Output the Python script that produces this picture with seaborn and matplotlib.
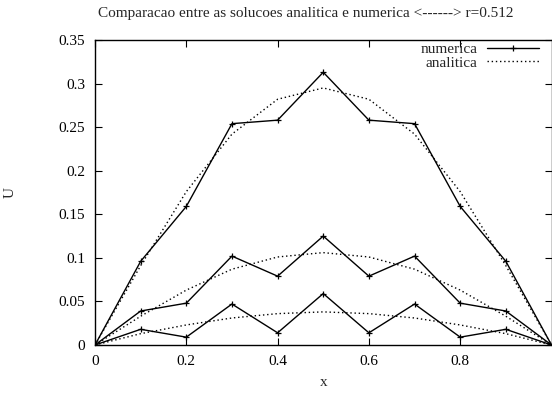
import matplotlib
matplotlib.use("Agg")
import matplotlib.pyplot as plt
import seaborn as sns
import pandas as pd

x = [0.0, 0.1, 0.2, 0.3, 0.4, 0.5, 0.6, 0.7, 0.8, 0.9, 1.0]

num_1 = [0, 0.096, 0.159, 0.254, 0.258, 0.313, 0.258, 0.254, 0.159, 0.096, 0]
num_2 = [0, 0.039, 0.048, 0.102, 0.079, 0.125, 0.079, 0.102, 0.048, 0.039, 0]
num_3 = [0, 0.018, 0.009, 0.047, 0.014, 0.059, 0.014, 0.047, 0.009, 0.018, 0]

ana_1 = [0, 0.091, 0.176, 0.242, 0.282, 0.295, 0.282, 0.242, 0.176, 0.091, 0]
ana_2 = [0, 0.033, 0.063, 0.087, 0.101, 0.106, 0.101, 0.087, 0.063, 0.033, 0]
ana_3 = [0, 0.013, 0.023, 0.031, 0.036, 0.038, 0.036, 0.031, 0.023, 0.013, 0]

title = "Comparacao entre as solucoes analitica e numerica <------> r=0.512"
xticks = [0, 0.2, 0.4, 0.6, 0.8]
xtick_labels = ["0", "0.2", "0.4", "0.6", "0.8"]
yticks = [0, 0.05, 0.1, 0.15, 0.2, 0.25, 0.3, 0.35]
ytick_labels = ["0", "0.05", "0.1", "0.15", "0.2", "0.25", "0.3", "0.35"]

sns.set_style("ticks")
plt.rcParams["font.family"] = ["Liberation Serif", "DejaVu Serif"]

fig = plt.figure(figsize=(5.52, 3.96), dpi=100)
ax = fig.add_axes([95 / 552, (396 - 345) / 396, (551.5 - 95) / 552, (345 - 40) / 396])

for i, (n, a) in enumerate([(num_1, ana_1), (num_2, ana_2), (num_3, ana_3)]):
    dfn = pd.DataFrame({"x": x, "U": n})
    dfa = pd.DataFrame({"x": x, "U": a})
    sns.lineplot(data=dfn, x="x", y="U", ax=ax, color="black", lw=1.0,
                 marker="+", markersize=5, markeredgewidth=0.9,
                 markeredgecolor="black", markerfacecolor="black",
                 label="numerica" if i == 0 else None, legend=False)
    sns.lineplot(data=dfa, x="x", y="U", ax=ax, color="black", lw=1.0,
                 linestyle=(0, (1, 2)),
                 label="analitica" if i == 0 else None, legend=False)

ax.set_xlim(0, 1)
ax.set_ylim(0, 0.35)
ax.set_xticks(xticks)
ax.set_xticklabels(xtick_labels)
ax.set_yticks(yticks)
ax.set_yticklabels(ytick_labels)
ax.tick_params(direction="in", top=True, right=True, length=5, width=0.8,
               labelsize=11, colors="black", pad=7)
for s in ax.spines.values():
    s.set_visible(True)
    s.set_color("black")
    s.set_linewidth(1.0)

ax.set_xlabel("x", fontsize=11, labelpad=6)
ax.set_ylabel("U", fontsize=11, labelpad=30)
fig.text(306 / 552, 1 - 13 / 396, title, fontsize=11, ha="center", va="center")

leg = ax.legend(loc="upper right", frameon=False, markerfirst=False,
                fontsize=11, handlelength=3.4, borderaxespad=0.0,
                labelspacing=0.0, handletextpad=0.6,
                bbox_to_anchor=(0.985, 1.012))

fig.savefig("out.png", dpi=100)
